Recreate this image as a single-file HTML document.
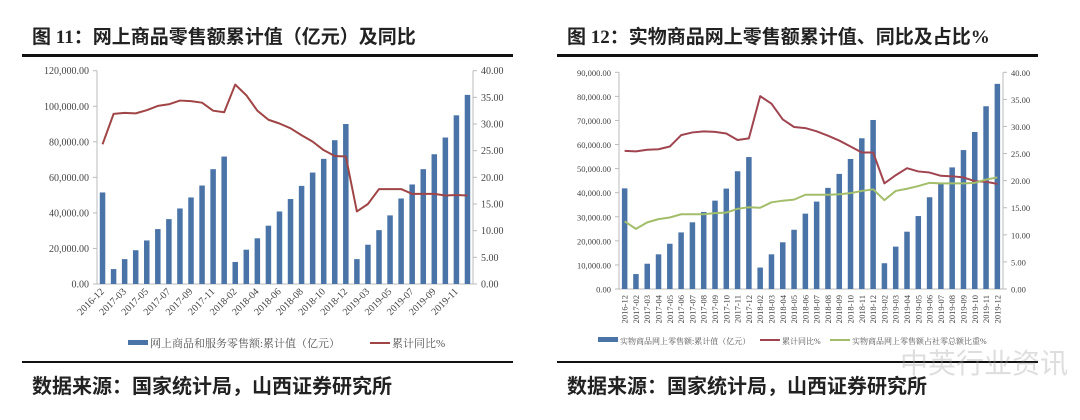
<!DOCTYPE html>
<html><head><meta charset="utf-8">
<style>
html,body{margin:0;padding:0;background:#fff;}
body{width:1080px;height:420px;overflow:hidden;position:relative;font-family:"Liberation Serif","Noto Serif CJK SC",serif;}
.title{position:absolute;top:22px;font-family:"Liberation Serif","Noto Sans CJK SC",sans-serif;font-size:19px;font-weight:bold;color:#222;white-space:nowrap;}
.src{position:absolute;top:370px;font-family:"Liberation Sans","Noto Sans CJK SC",sans-serif;font-size:20px;font-weight:bold;color:#222;white-space:nowrap;}
.rule{position:absolute;height:3px;background:#111;}
svg{position:absolute;left:0;top:0;}
</style></head>
<body>
<div class="title" style="left:32px">图 11：网上商品零售额累计值（亿元）及同比</div>
<div class="title" style="left:567px">图 12：实物商品网上零售额累计值、同比及占比%</div>
<div class="rule" style="left:22px;width:491px;top:54px"></div>
<div class="rule" style="left:557px;width:481px;top:54px"></div>
<div class="rule" style="left:22px;width:491px;top:361px;height:2px"></div>
<div class="rule" style="left:557px;width:481px;top:361px;height:2px"></div>
<div class="src" style="left:32px">数据来源：国家统计局，山西证券研究所</div>
<div class="src" style="left:567px">数据来源：国家统计局，山西证券研究所</div>
<div style="position:absolute;left:900px;top:342px;font-family:'Noto Sans CJK SC',sans-serif;font-size:28px;color:rgba(160,160,160,0.35);white-space:nowrap;">中英行业资讯</div>
<svg id="svg" width="1080" height="420"></svg>
<script>
const categories=["2016-12","2017-02","2017-03","2017-04","2017-05","2017-06","2017-07","2017-08","2017-09","2017-10","2017-11","2017-12","2018-02","2018-03","2018-04","2018-05","2018-06","2018-07","2018-08","2018-09","2018-10","2018-11","2018-12","2019-02","2019-03","2019-04","2019-05","2019-06","2019-07","2019-08","2019-09","2019-10","2019-11","2019-12"];
const c11Bars=[51500,8400,14000,19000,24500,30900,36500,42500,48700,55400,64600,71700,12400,19300,25700,32800,40800,47800,55200,62700,70400,80900,90000,14000,22100,30300,38600,48100,56000,64600,73000,82400,94900,106400];
const c11Yoy=[26.2,31.9,32.1,32.0,32.6,33.4,33.7,34.4,34.3,34.0,32.5,32.2,37.4,35.4,32.5,30.8,30.1,29.2,27.9,26.7,25.1,24.0,23.9,13.6,15.0,17.8,17.8,17.8,16.9,16.9,16.9,16.6,16.7,16.6];
const c11LeftTicks=[0,20000,40000,60000,80000,100000,120000];
const c11RightTicks=[0,5,10,15,20,25,30,35,40];
const c12Bars=[41800,6200,10500,14400,18800,23500,27700,32000,36700,41700,48900,54800,8900,14400,19400,24600,31300,36300,42000,47800,54000,62600,70200,10700,17600,23800,30300,38100,43900,50500,57700,65200,75900,85200];
const c12Yoy=[25.5,25.4,25.7,25.8,26.3,28.4,28.9,29.1,29.0,28.7,27.5,27.8,35.6,34.2,31.3,29.9,29.7,29.1,28.3,27.4,26.3,25.2,25.2,19.5,21.0,22.3,21.7,21.5,20.9,20.8,20.6,19.9,19.8,19.4];
const c12Share=[12.5,11.1,12.3,12.9,13.2,13.8,13.8,13.8,14.0,14.1,14.8,15.1,15.0,16.0,16.3,16.5,17.4,17.4,17.4,17.5,17.7,18.1,18.4,16.4,18.1,18.5,19.0,19.6,19.5,19.5,19.5,19.6,20.2,20.6];
const c12LeftTicks=[0,10000,20000,30000,40000,50000,60000,70000,80000,90000];
const c12RightTicks=[0,5,10,15,20,25,30,35,40];

const NS="http://www.w3.org/2000/svg";
const svg=document.getElementById('svg');
function mk(tag,attrs,parent){const e=document.createElementNS(NS,tag);for(const k in attrs)e.setAttribute(k,attrs[k]);(parent||svg).appendChild(e);return e;}
function fmt(v){return v.toLocaleString('en-US',{minimumFractionDigits:2,maximumFractionDigits:2});}

function chart(o){
  const g=mk('g',{});
  
  
  const lMax=o.lTicks[o.lTicks.length-1], rMax=o.rTicks[o.rTicks.length-1];
  const yL=v=>o.y0-(v/lMax)*(o.y0-o.yTop);
  const yR=v=>o.y0-(v/rMax)*(o.y0-o.yTop);
  const n=categories.length;
  const step=(o.xR-o.xL)/n;
  const xC=i=>o.xL+step*(i+0.5);
  const al=mk('line',{x1:o.xL,y1:o.yTop,x2:o.xL,y2:o.y0,stroke:'#bbb','stroke-width':1},g);
  
  const ar=mk('line',{x1:o.xR,y1:o.yTop,x2:o.xR,y2:o.y0,stroke:'#bbb','stroke-width':1},g);
  
  const ax=mk('line',{x1:o.xL,y1:o.y0,x2:o.xR,y2:o.y0,stroke:'#bbb','stroke-width':1},g);
  
  o.lTicks.forEach(v=>{
    mk('line',{x1:o.xL-4,y1:yL(v),x2:o.xL,y2:yL(v),stroke:'#bbb'},g);
    const t=mk('text',{x:o.xL-8,y:yL(v)+3.5,'text-anchor':'end','font-size':o.fs,fill:'#444','font-family':'Liberation Serif, serif'},g);
    t.textContent=fmt(v);
    
  });
  o.rTicks.forEach(v=>{
    mk('line',{x1:o.xR,y1:yR(v),x2:o.xR+4,y2:yR(v),stroke:'#bbb'},g);
    const t=mk('text',{x:o.xR+8,y:yR(v)+3.5,'text-anchor':'start','font-size':o.fs,fill:'#444','font-family':'Liberation Serif, serif'},g);
    t.textContent=fmt(v);
    
  });
  o.bars.forEach((v,i)=>{
    const b=mk('rect',{x:xC(i)-o.bw/2,y:yL(v),width:o.bw,height:o.y0-yL(v),fill:'#4a73a8'},g);
    
    
  });
  o.lines.forEach(L=>{
    const p=mk('polyline',{points:L.vals.map((v,i)=>xC(i)+','+yR(v)).join(' '),fill:'none',stroke:L.color,'stroke-width':2,'stroke-linejoin':'round'},g);
    
    
  });
  categories.forEach((c,i)=>{
    if(i%o.every!==0)return;
    const x=xC(i), y=o.y0+6;
    const t=mk('text',{x:x,y:y,'text-anchor':'end','font-size':o.xfs,fill:'#444','font-family':'Liberation Serif, serif',transform:`rotate(${o.rot} ${x} ${y}) translate(0 3)`},g);
    t.textContent=c;
    
  });
  let lx=o.legX;
  o.legend.forEach(L=>{
    if(L.type==='bar'){mk('rect',{x:lx,y:o.legY-3,width:20,height:5,fill:'#4a73a8'},g);}
    else{mk('line',{x1:lx,y1:o.legY,x2:lx+20,y2:o.legY,stroke:L.color,'stroke-width':2},g);}
    const t=mk('text',{x:lx+22,y:o.legY+4,'font-size':o.lfs,fill:'#555','font-family':'Liberation Serif, Noto Serif CJK SC, serif'},g);
    t.textContent=L.text;
    
    lx+=22+L.w;
  });
}
chart({id:'chart11',xL:97,xR:473,yTop:70.7,y0:284,lTicks:c11LeftTicks,rTicks:c11RightTicks,bars:c11Bars,bw:5.5,fs:10,xfs:10,rot:-45,every:2,
  lines:[{vals:c11Yoy,color:'#a04545',name:'yoy-line'}],
  legX:128,legY:343,lfs:11,legend:[{type:'bar',text:'网上商品和服务零售额:累计值（亿元）',w:220},{type:'line',color:'#a04545',text:'累计同比%',w:60}]});
chart({id:'chart12',xL:619,xR:1003,yTop:72.3,y0:289,lTicks:c12LeftTicks,rTicks:c12RightTicks,bars:c12Bars,bw:5.5,fs:8.5,xfs:8.5,rot:-90,every:1,
  lines:[{vals:c12Yoy,color:'#a04550',name:'yoy-line'},{vals:c12Share,color:'#a3be6a',name:'share-line'}],
  legX:598,legY:340,lfs:8,legend:[{type:'bar',text:'实物商品网上零售额:累计值（亿元）',w:140},{type:'line',color:'#a04550',text:'累计同比%',w:48},{type:'line',color:'#a3be6a',text:'实物商品网上零售额占社零总额比重%',w:140}]});
</script>
</body></html>
